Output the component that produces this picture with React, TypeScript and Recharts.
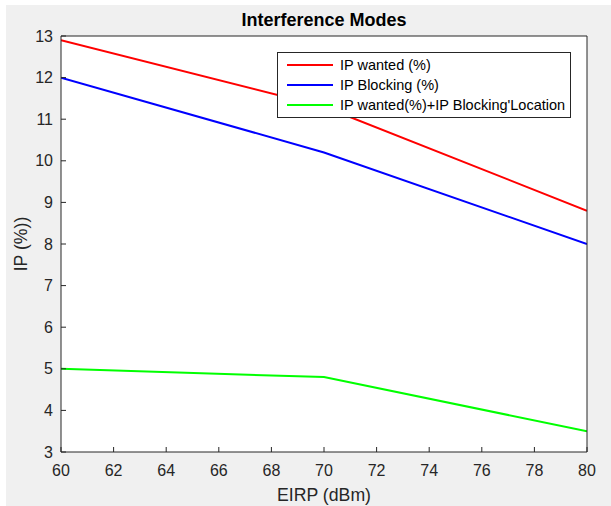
import { LineChart, Line, XAxis, YAxis, CartesianGrid, Legend, Label } from 'recharts'

const eirp = [60, 70, 80]
const ipWanted = [12.9, 11.3, 8.8]
const ipBlocking = [12.0, 10.2, 8.0]
const ipCombined = [5.0, 4.8, 3.5]

const xTicks = [60, 62, 64, 66, 68, 70, 72, 74, 76, 78, 80]
const yTicks = [3, 4, 5, 6, 7, 8, 9, 10, 11, 12, 13]

const series = [
  { key: 'wanted', name: 'IP wanted (%)', color: '#ff0000' },
  { key: 'blocking', name: 'IP Blocking (%)', color: '#0000ff' },
  { key: 'combined', name: "IP wanted(%)+IP Blocking'Location", color: '#00ff00' },
]

const data = eirp.map((x, i) => ({
  x,
  wanted: ipWanted[i],
  blocking: ipBlocking[i],
  combined: ipCombined[i],
}))

const FONT = '"Liberation Sans", Arial, Helvetica, sans-serif'
const AXIS = '#262626'

function LegendBox() {
  return (
    <div
      style={{
        width: 292,
        height: 64,
        border: `1px solid ${AXIS}`,
        background: '#fff',
        fontFamily: FONT,
        fontSize: 14.5,
        color: '#000',
        boxSizing: 'content-box',
      }}
    >
      {series.map((s, i) => (
        <div key={s.key} style={{ position: 'relative', height: 20, marginTop: i === 0 ? 2 : 0 }}>
          <span style={{ position: 'absolute', left: 9, top: 9, width: 46, height: 2, background: s.color }} />
          <span style={{ position: 'absolute', left: 62, top: 1, whiteSpace: 'nowrap', lineHeight: '18px' }}>{s.name}</span>
        </div>
      ))}
    </div>
  )
}

export default function App() {
  return (
    <div style={{ position: 'absolute', left: 0, top: 0, width: 611, height: 506, background: '#fff' }}>
      <div style={{ position: 'absolute', left: 6, top: 5, width: 605, height: 501, background: '#f0f0f0' }} />
      <div
        style={{
          position: 'absolute',
          left: 0,
          top: 9,
          width: 648,
          textAlign: 'center',
          fontFamily: FONT,
          fontWeight: 'bold',
          fontSize: 18,
          color: '#000',
          lineHeight: '22px',
        }}
      >
        Interference Modes
      </div>
      <div style={{ position: 'absolute', left: 0, top: 0 }}>
        <LineChart width={611} height={506} data={data} margin={{ top: 26, right: 14, bottom: 0, left: 11 }}>
          <CartesianGrid fill="#ffffff" horizontal={false} vertical={false} />
          <XAxis
            xAxisId="bottom"
            dataKey="x"
            type="number"
            domain={[60, 80]}
            ticks={xTicks}
            allowDataOverflow
            height={54}
            tickSize={-5}
            tickMargin={18}
            stroke={AXIS}
            tick={{ fill: AXIS, fontSize: 16, fontFamily: FONT }}
          >
            <Label value="EIRP (dBm)" position="insideBottom" offset={5} style={{ fill: AXIS, fontSize: 17.7, fontFamily: FONT }} />
          </XAxis>
          <XAxis
            xAxisId="top"
            orientation="top"
            dataKey="x"
            type="number"
            domain={[60, 80]}
            ticks={xTicks}
            allowDataOverflow
            height={10}
            tickSize={-5}
            tick={false}
            stroke={AXIS}
          />
          <YAxis
            yAxisId="left"
            type="number"
            domain={[3, 13]}
            ticks={yTicks}
            allowDataOverflow
            width={50}
            tickSize={-5}
            tickMargin={13}
            stroke={AXIS}
            tick={{ fill: AXIS, fontSize: 16, fontFamily: FONT }}
          >
            <Label
              content={({ viewBox }: any) => (
                <text
                  x={viewBox.x + 10}
                  y={viewBox.y + viewBox.height / 2}
                  transform={`rotate(-90, ${viewBox.x + 10}, ${viewBox.y + viewBox.height / 2})`}
                  textAnchor="middle"
                  dominantBaseline="central"
                  fill={AXIS}
                  fontSize={17.7}
                  fontFamily={FONT}
                >
                  IP (%))
                </text>
              )}
            />
          </YAxis>
          <YAxis
            yAxisId="right"
            orientation="right"
            type="number"
            domain={[3, 13]}
            ticks={yTicks}
            allowDataOverflow
            width={10}
            tickSize={-5}
            tick={false}
            stroke={AXIS}
          />
          <Legend
            layout="horizontal"
            verticalAlign="middle"
            align="center"
            content={() => <LegendBox />}
            wrapperStyle={{ left: 277, top: 52, width: 294, height: 66 }}
          />
          {series.map(s => (
            <Line
              key={s.key}
              xAxisId="bottom"
              yAxisId="left"
              type="linear"
              dataKey={s.key}
              name={s.name}
              stroke={s.color}
              strokeWidth={2}
              dot={false}
              activeDot={false}
              isAnimationActive={false}
            />
          ))}
        </LineChart>
      </div>
    </div>
  )
}
